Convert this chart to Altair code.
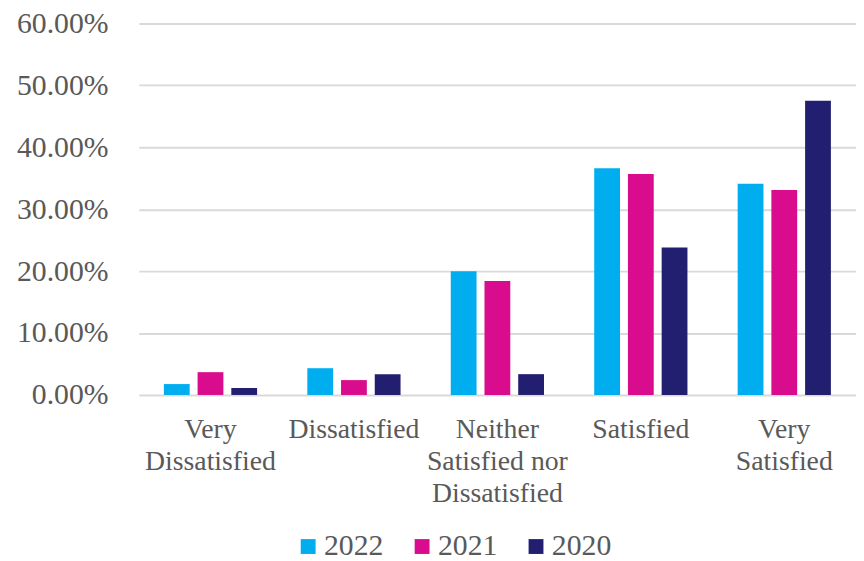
import altair as alt
import pandas as pd

categories = ["Very Dissatisfied", "Dissatisfied", "Neither Satisfied nor Dissatisfied",
              "Satisfied", "Very Satisfied"]
label_lines = [["Very", "Dissatisfied"], ["Dissatisfied"],
               ["Neither", "Satisfied nor", "Dissatisfied"], ["Satisfied"],
               ["Very", "Satisfied"]]
years = ["2022", "2021", "2020"]
colors = ["#00AEEF", "#D80C8C", "#221E70"]
v2022 = [0.0176, 0.0432, 0.200, 0.366, 0.341]
v2021 = [0.0368, 0.024, 0.184, 0.357, 0.331]
v2020 = [0.0112, 0.0336, 0.0336, 0.238, 0.475]
y_ticks = [0, 0.1, 0.2, 0.3, 0.4, 0.5, 0.6]

rows = []
for yr, vals in zip(years, [v2022, v2021, v2020]):
    for c, v in zip(categories, vals):
        rows.append({"category": c, "year": yr, "value": v})
df = pd.DataFrame(rows)

expr = ""
for c, lines in zip(categories, label_lines):
    arr = "[" + ",".join("'" + l + "'" for l in lines) + "]"
    expr += "datum.value === '" + c + "' ? " + arr + " : "
expr += "datum.label"

FONT = "Liberation Serif"
GREY = "#595959"

chart = alt.Chart(df).mark_bar().encode(
    x=alt.X("category:N", sort=categories, title=None,
            scale=alt.Scale(paddingInner=0.35, paddingOuter=0.175),
            axis=alt.Axis(labelExpr=expr, labelAngle=0, domain=False, ticks=False,
                          labelPadding=21, labelFontSize=28, labelFont=FONT,
                          labelColor=GREY, labelLineHeight=32.5, labelBaseline="top")),
    xOffset=alt.XOffset("year:N", sort=years,
                        scale=alt.Scale(paddingInner=0.235, paddingOuter=0)),
    y=alt.Y("value:Q", title=None,
            scale=alt.Scale(domain=[0, 0.6], nice=False),
            axis=alt.Axis(values=y_ticks, format=".2%", domain=False, ticks=False,
                          labelPadding=31, labelFontSize=30, labelFont=FONT,
                          labelColor=GREY, gridColor="#D9D9D9", gridWidth=2)),
    color=alt.Color("year:N", sort=years,
                    scale=alt.Scale(domain=years, range=colors),
                    legend=alt.Legend(orient="none", legendX=156, legendY=513,
                                      direction="horizontal", title=None,
                                      symbolType="square", symbolSize=225,
                                      labelFontSize=30, labelFont=FONT,
                                      labelColor=GREY, columnPadding=24,
                                      labelOffset=1, symbolStrokeWidth=0)),
).properties(
    width=724, height=375,
    autosize=alt.AutoSizeParams(type="none"),
    padding={"left": 132, "top": 13, "right": 0, "bottom": 165},
).configure(background="white").configure_view(stroke=None)

chart.save("out.html", embed_options={"renderer": "svg", "actions": False})
